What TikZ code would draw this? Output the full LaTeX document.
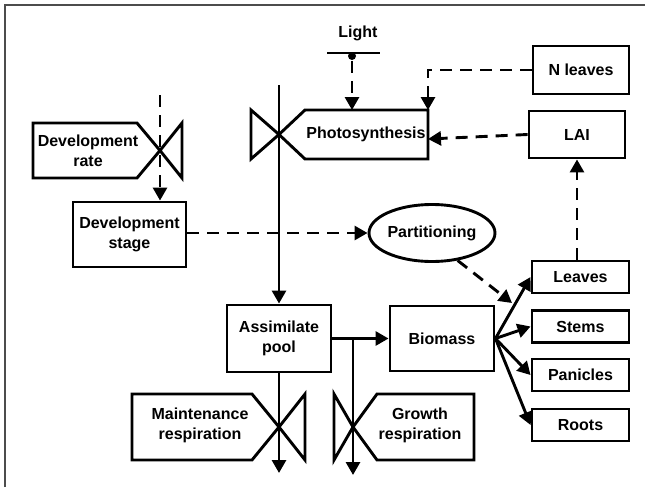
\documentclass[tikz,border=0pt]{standalone}
\usepackage{fontspec}
\setmainfont{Liberation Sans}
\usetikzlibrary{shapes.geometric,arrows.meta}

\begin{document}
\begin{tikzpicture}[x=0.5pt,y=-0.5pt,line width=1.45pt,
  every node/.style={font=\fontsize{8}{10}\selectfont\bfseries, align=center, inner sep=0pt},
  box/.style={draw, rectangle},
  flow/.style={-{Triangle[length=6.5pt,width=7pt]}},
  info/.style={flow, dash pattern=on 6pt off 4pt}]
\useasboundingbox (0,0) rectangle (647,487);
\draw[line width=1pt, black!70] (5,487) -- (5,5) -- (645,5);
% development rate
\draw (33,123) -- (137,123) -- (160,150.5) -- (137,178) -- (33,178) -- cycle;
\draw (160,150.5) -- (182,123) -- (182,178) -- cycle;
\node (dev_rate) at (88,151) {Development\\rate};
\coordinate (dev_in) at (160,95);
\node[box, minimum width=56.5pt, minimum height=32.5pt] (dev_stage) at (129.5,234.5) {Development\\stage};
\draw[info] (dev_in) -- (dev_in |- dev_stage.north);
% photosynthesis
\draw (251,110) -- (251,159) -- (279,134.5) -- cycle;
\draw (279,134.5) -- (305,110) -- (428,110) -- (428,159) -- (305,159) -- cycle;
\node (photo) at (366,134.5) {Photosynthesis};
\coordinate (photo_ne) at (428,110);
\coordinate (photo_e) at (428,139);
\coordinate (carbon_in) at (279,85);
% light
\node (light) at (358,33) {Light};
\draw (327,53) -- (380,53);
\node[circle, fill, minimum size=4pt] (light_dot) at (352,56) {};
\draw[info] (light_dot) -- (light_dot |- photo_ne);
% n leaves and lai
\node[box, minimum width=48pt, minimum height=24pt] (n_leaves) at (581,70) {N leaves};
\draw[info] (n_leaves.west) -| (photo_ne);
\node[box, minimum width=48pt, minimum height=23.5pt] (lai) at (577,134.5) {LAI};
\draw[info] (lai.west) -- (photo_e);
% partitioning
\node[ellipse, draw, minimum width=63pt, minimum height=28.5pt] (part) at (432,233) {Partitioning};
\draw[info] (dev_stage.east |- part.west) -- (part.west);
\coordinate (part_to) at (512,303);
\draw[info] (part.-47) -- (part_to);
% assimilate pool
\node[box, minimum width=52pt, minimum height=33.5pt] (assim) at (279,338.5) {Assimilate\\pool};
\draw[flow] (carbon_in) -- (assim.north);
\coordinate (maint_out) at (279,473);
\draw[flow] (assim.south) -- (maint_out);
% maintenance respiration
\draw (132,394) -- (252,394) -- (279,427) -- (252,460) -- (132,460) -- cycle;
\draw (279,427) -- (305,394) -- (305,460) -- cycle;
\node (maint) at (200,425) {Maintenance\\respiration};
% biomass
\node[box, minimum width=52pt, minimum height=32.5pt] (biomass) at (442,338.5) {Biomass};
\draw[flow] (assim.east) -- (biomass.west);
\coordinate (growth_c) at (353,338.5);
\coordinate (growth_out) at (353,475);
\draw[flow] (growth_c) -- (growth_out);
% growth respiration
\draw (334,394) -- (334,460) -- (353,427) -- cycle;
\draw (353,427) -- (377,394) -- (474,394) -- (474,460) -- (377,460) -- cycle;
\node (growth) at (420,425) {Growth\\respiration};
% organs
\node[box, minimum width=48.5pt, minimum height=16pt] (leaves) at (580.5,277) {Leaves};
\node[box, minimum width=48.5pt, minimum height=16pt] (stems) at (580.5,326.5) {Stems};
\node[box, minimum width=48.5pt, minimum height=16pt] (panicles) at (580.5,375) {Panicles};
\node[box, minimum width=48.5pt, minimum height=16pt] (roots) at (580.5,425) {Roots};
\draw[flow] (biomass.east) -- (leaves.west);
\draw[flow] (biomass.east) -- (stems.west);
\draw[flow] (biomass.east) -- (panicles.west);
\draw[flow] (biomass.east) -- (roots.west);
\draw[info] (lai.south |- leaves.north) -- (lai.south);
\end{tikzpicture}
\end{document}
